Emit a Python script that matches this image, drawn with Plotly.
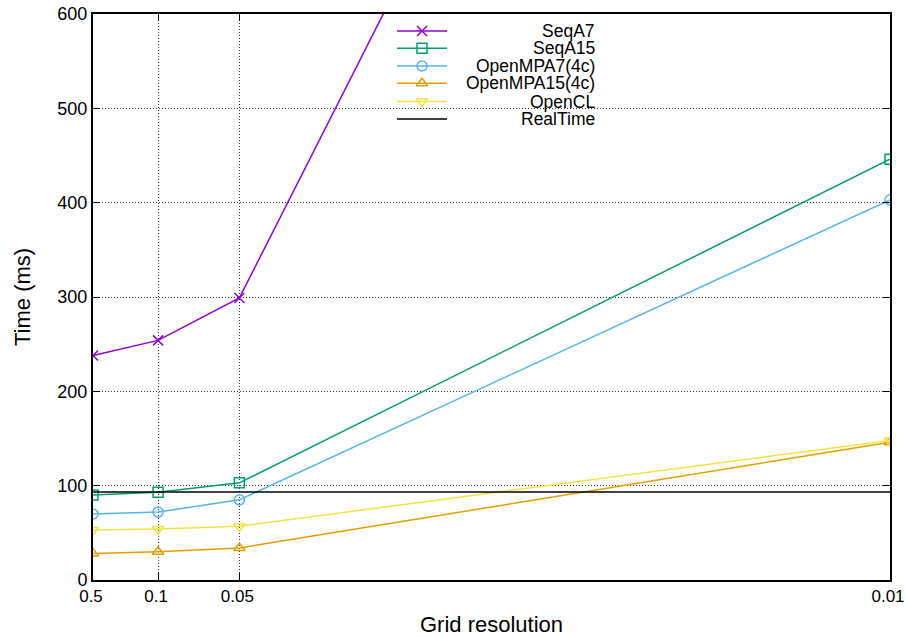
import plotly.graph_objects as go

resolutions = [0.5, 0.1, 0.05, 0.01]
tick_labels = ["0.5", "0.1", "0.05", "0.01"]
seq_a7 = [238, 254, 299, 1660]
seq_a15 = [90, 93, 103, 446]
omp_a7 = [70, 72, 85, 403]
omp_a15 = [28, 30, 34, 146]
opencl = [53, 54, 57, 148]
realtime = [93.3, 93.3, 93.3, 93.3]

x = [1.0 / r for r in resolutions]

series = [
    ("SeqA7", seq_a7, "#9400D3", "x-thin-open"),
    ("SeqA15", seq_a15, "#009E73", "square-open"),
    ("OpenMPA7(4c)", omp_a7, "#56B4E9", "circle-open"),
    ("OpenMPA15(4c)", omp_a15, "#E69F00", "triangle-up-open"),
    ("OpenCL", opencl, "#F0E442", "triangle-down-open"),
    ("RealTime", realtime, "black", None),
]

W, H = 906, 637
L, R, T, B = 93, 16, 14, 57
PW, PH = W - L - R, H - T - B

def px_x(p):
    return (p - L) / PW

def px_y(p):
    return (H - B - p) / PH

fig = go.Figure()
for name, vals, col, sym in series:
    if sym:
        fig.add_trace(go.Scatter(
            x=x, y=vals, name=name, mode="lines+markers",
            line=dict(color=col, width=1.5),
            marker=dict(symbol=sym, size=10, color=col, line=dict(width=1.5, color=col)),
            showlegend=False,
        ))
    else:
        fig.add_trace(go.Scatter(
            x=x, y=vals, name=name, mode="lines",
            line=dict(color=col, width=1.5), showlegend=False,
        ))

# gnuplot-style key: right-aligned text, sample line on the left
row_py = [31, 48.3, 66, 83.3, 101.5, 119]
annotations = []
shapes = []
for (name, vals, col, sym), py in zip(series, row_py):
    yy = px_y(py)
    shapes.append(dict(type="line", xref="paper", yref="paper",
                       x0=px_x(397), x1=px_x(447), y0=yy, y1=yy,
                       line=dict(color=col, width=1.5)))
    annotations.append(dict(xref="paper", yref="paper", x=px_x(597), y=yy,
                            xanchor="right", yanchor="middle", text=name,
                            showarrow=False, font=dict(size=17.5)))
    if sym:
        fig.add_trace(go.Scatter(
            x=[px_x(422)], y=[yy], xaxis="x2", yaxis="y2", mode="markers",
            marker=dict(symbol=sym, size=10, color=col, line=dict(width=1.5, color=col)),
            showlegend=False, hoverinfo="skip", cliponaxis=False,
        ))

annotations.append(dict(xref="paper", yref="paper", x=0.5, y=px_y(624),
                        xanchor="center", yanchor="middle", text="Grid resolution",
                        showarrow=False, font=dict(size=22)))
annotations.append(dict(xref="paper", yref="paper", x=px_x(22), y=0.5,
                        xanchor="center", yanchor="middle", text="Time (ms)",
                        textangle=-90, showarrow=False, font=dict(size=22)))

font = "Liberation Sans, Arial, sans-serif"
grid = dict(showgrid=True, gridcolor="#333", griddash="1px,2px", gridwidth=1,
            ticks="inside", ticklen=7, tickcolor="black", tickwidth=1,
            showline=True, linecolor="black", linewidth=2, mirror="ticks",
            zeroline=False, automargin=False, ticklabeloverflow="allow")
fig.update_layout(
    width=W, height=H,
    margin=dict(l=L, r=R, t=T, b=B),
    plot_bgcolor="white", paper_bgcolor="white",
    font=dict(family=font, size=18, color="black"),
    showlegend=False,
    annotations=annotations,
    shapes=shapes,
    xaxis=dict(range=[x[0], x[-1]], tickvals=x, ticktext=tick_labels,
               tickfont=dict(size=17), ticklabelshift=-2, **grid),
    yaxis=dict(range=[0, 600], dtick=100, **grid),
    xaxis2=dict(overlaying="x", range=[0, 1], visible=False, automargin=False),
    yaxis2=dict(overlaying="y", range=[0, 1], visible=False, automargin=False),
)

fig.write_html("out.html")
